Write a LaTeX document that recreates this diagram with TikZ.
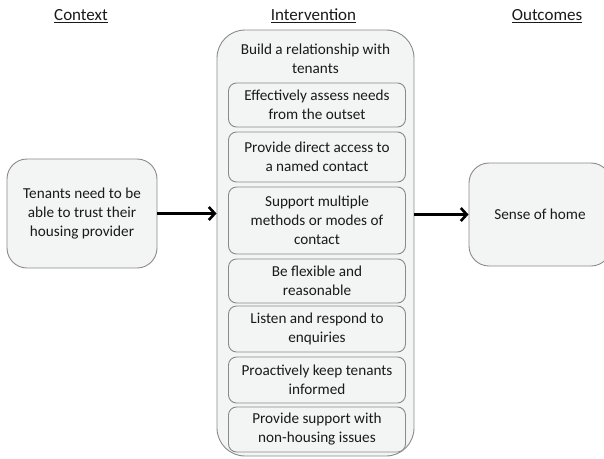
\documentclass[tikz,border=0pt]{standalone}
\usepackage{fontspec}
\setmainfont{Carlito}
\usetikzlibrary{arrows.meta}
\definecolor{boxfill}{HTML}{F3F4F4}
\definecolor{boxline}{HTML}{8A8A8A}
\definecolor{txt}{HTML}{1A1A1A}
\begin{document}
\begin{tikzpicture}[x=1pt,y=-1pt,
  font=\fontsize{15.2}{19}\selectfont, text=txt,
  box/.style={draw=boxline, fill=boxfill, line width=0.9pt, rounded corners=8pt, align=center, inner sep=0pt, minimum width=177pt},
  bigbox/.style={draw=boxline, fill=boxfill, line width=0.9pt, rounded corners=28pt, inner sep=0pt, minimum width=197pt, minimum height=426pt},
  sidebox/.style={draw=boxline, fill=boxfill, line width=0.9pt, rounded corners=20pt, align=center, inner sep=0pt},
  title/.style={inner sep=0pt, anchor=base, font=\fontsize{17}{20}\selectfont},
  flow/.style={line width=2.6pt, -{Straight Barb[length=6pt,width=13pt]}}]
\useasboundingbox (0,0) rectangle (604,458);
\clip (0,0) rectangle (604,458);
\node[title] (tctx) at (81,20.5) {\underline{Context}};
\node[title] (tint) at (313.5,20.5) {\underline{Intervention}};
\node[title] (tout) at (547,20.5) {\underline{Outcomes}};
\node[bigbox] (big) at (315.5,243) {};
\node[align=center, inner sep=0pt] (build) at (315.5,59) {Build a relationship with\\tenants};
\node[box, minimum height=44pt] (b1) at (317,105) {Effectively assess needs\\from the outset};
\node[box, minimum height=50pt] (b2) at (317,157) {Provide direct access to\\a named contact};
\node[box, minimum height=67pt] (b3) at (317,220.5) {Support multiple\\methods or modes of\\contact};
\node[box, minimum height=44pt] (b4) at (317,281) {Be flexible and\\reasonable};
\node[box, minimum height=46pt] (b5) at (317,329) {Listen and respond to\\enquiries};
\node[box, minimum height=46pt] (b6) at (317,380) {Proactively keep tenants\\informed};
\node[box, minimum height=45pt] (b7) at (317,429.5) {Provide support with\\non-housing issues};
\node[sidebox, minimum width=150pt, minimum height=109pt] (ctx) at (82,213.5) {Tenants need to be\\able to trust their\\housing provider};
\node[sidebox, minimum width=142pt, minimum height=103pt] (out) at (540,214.5) {Sense of home};
\draw[flow] (ctx.east) -- (ctx.east -| big.west);
\draw[flow] (out.west -| big.east) -- (out.west);
\end{tikzpicture}
\end{document}
